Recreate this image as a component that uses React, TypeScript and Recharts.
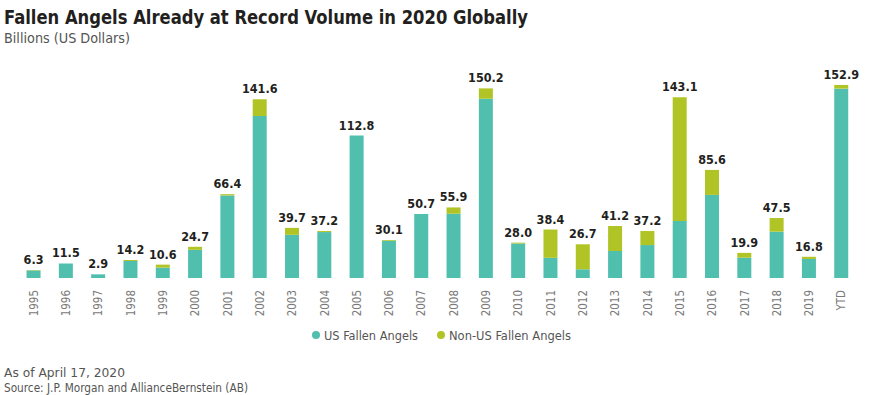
import { BarChart, Bar, XAxis, YAxis, LabelList } from 'recharts';

const years = ['1995', '1996', '1997', '1998', '1999', '2000', '2001', '2002', '2003', '2004', '2005', '2006', '2007', '2008', '2009', '2010', '2011', '2012', '2013', '2014', '2015', '2016', '2017', '2018', '2019', 'YTD'];
const usFallenAngels = [6.0, 11.5, 2.9, 13.4, 8.2, 22.3, 65.4, 128.4, 34.2, 36.4, 112.8, 29.5, 50.7, 50.9, 142.0, 27.3, 16.0, 6.9, 21.4, 26.1, 45.2, 65.8, 16.1, 36.7, 15.1, 150.0];
const nonUsFallenAngels = [0.3, 0, 0, 0.8, 2.4, 2.4, 1.0, 13.2, 5.5, 0.8, 0, 0.6, 0, 5.0, 8.2, 0.7, 22.4, 19.8, 19.8, 11.1, 97.9, 19.8, 3.8, 10.8, 1.7, 2.9];
const totals = [6.3, 11.5, 2.9, 14.2, 10.6, 24.7, 66.4, 141.6, 39.7, 37.2, 112.8, 30.1, 50.7, 55.9, 150.2, 28.0, 38.4, 26.7, 41.2, 37.2, 143.1, 85.6, 19.9, 47.5, 16.8, 152.9];

const data = years.map((year, i) => ({
  year,
  us: usFallenAngels[i],
  nonUs: nonUsFallenAngels[i],
  total: totals[i],
}));

const TEAL = '#50bfae';
const GREEN = '#b1c425';
const FONT = "'DejaVu Sans Condensed', 'DejaVu Sans', sans-serif";

function YearTick(props: any) {
  const { x, y, payload } = props;
  return (
    <text
      x={x}
      y={y}
      transform={`rotate(-90, ${x}, ${y})`}
      textAnchor="end"
      dy="0.36em"
      fontFamily={FONT}
      fontStretch="condensed"
      fontSize={11.5}
      fill="#7a7a7a"
    >
      {payload.value}
    </text>
  );
}

// total label sits above the full stack; the us bar's own scale gives px per unit
function TotalLabel(props: any) {
  const { x, y, width, height, index } = props;
  const d = data[index];
  if (!d || !d.us) return null;
  const top = y + height - (height * d.total) / d.us;
  return (
    <text
      x={x + width / 2}
      y={top - 6}
      textAnchor="middle"
      fontFamily={FONT}
      fontSize={12.5}
      fontWeight={700}
      fill="#231f20"
    >
      {d.total.toFixed(1)}
    </text>
  );
}

export default function App() {
  return (
    <div style={{ position: 'absolute', left: 0, top: 0, width: 880, height: 395, background: '#fff' }}>
      <BarChart
        width={880}
        height={395}
        data={data}
        margin={{ top: 76, right: 22.5, left: 17.5, bottom: 77 }}
        barCategoryGap="28%"
      >
        <XAxis
          dataKey="year"
          interval={0}
          tickLine={false}
          axisLine={false}
          height={40}
          tick={<YearTick />}
          tickMargin={6}
        />
        <YAxis hide domain={[0, 160]} />
        <Bar dataKey="us" stackId="a" fill={TEAL} isAnimationActive={false}>
          <LabelList dataKey="us" content={<TotalLabel />} />
        </Bar>
        <Bar dataKey="nonUs" stackId="a" fill={GREEN} isAnimationActive={false} />
      </BarChart>
      <svg width={880} height={395} style={{ position: 'absolute', left: 0, top: 0, pointerEvents: 'none' }}>
        <text x={4} y={24} fontFamily={FONT} fontWeight={700} fontSize={19} fill="#231f20" textLength={524} lengthAdjust="spacingAndGlyphs">
          Fallen Angels Already at Record Volume in 2020 Globally
        </text>
        <text x={4} y={42.5} fontFamily={FONT} fontSize={13.5} fill="#555" textLength={126} lengthAdjust="spacingAndGlyphs">
          Billions (US Dollars)
        </text>
        <circle cx={316} cy={335} r={4} fill={TEAL} />
        <text x={324} y={339.5} fontFamily={FONT} fontSize={12.5} fill="#555" textLength={94} lengthAdjust="spacingAndGlyphs">
          US Fallen Angels
        </text>
        <circle cx={441} cy={335} r={4} fill={GREEN} />
        <text x={449} y={339.5} fontFamily={FONT} fontSize={12.5} fill="#555" textLength={122} lengthAdjust="spacingAndGlyphs">
          Non-US Fallen Angels
        </text>
        <text x={4} y={377} fontFamily={FONT} fontSize={12} fill="#555" textLength={121} lengthAdjust="spacingAndGlyphs">
          As of April 17, 2020
        </text>
        <text x={4} y={392} fontFamily={FONT} fontSize={12} fill="#555" textLength={244} lengthAdjust="spacingAndGlyphs">
          Source: J.P. Morgan and AllianceBernstein (AB)
        </text>
      </svg>
    </div>
  );
}
